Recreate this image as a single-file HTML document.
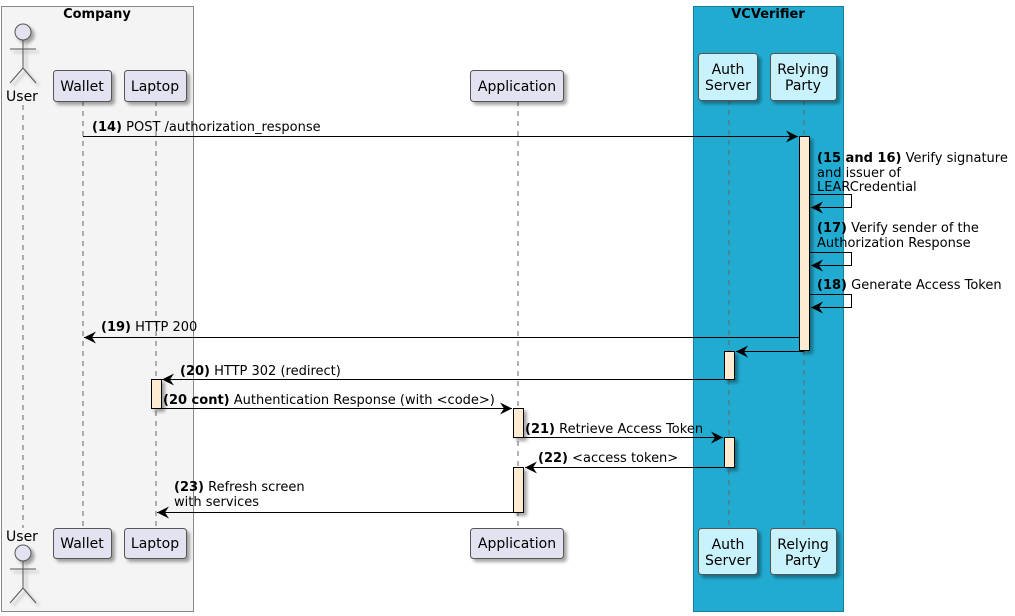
<!DOCTYPE html>
<html><head><meta charset="utf-8"><style>
html,body{margin:0;padding:0;background:#fff;}
svg{display:block;}
text{font-family:"DejaVu Sans","Liberation Sans",sans-serif;font-size:13px;fill:#000;}
.p{font-size:14px;}
.b{font-weight:bold;}
</style></head><body>
<svg width="1015" height="616" viewBox="0 0 1015 616" xmlns="http://www.w3.org/2000/svg">
<defs>
<filter id="sh" x="-20%" y="-20%" width="150%" height="150%"><feDropShadow dx="3" dy="3" stdDeviation="1.5" flood-color="#000" flood-opacity="0.35"/></filter>
<marker id="ar" markerWidth="13" markerHeight="12" refX="12" refY="6" orient="auto" markerUnits="userSpaceOnUse"><path d="M0,0 L12,6 L0,12 L4,6 Z" fill="#000"/></marker>
</defs>
<rect x="1.5" y="6.5" width="192" height="605" fill="#f4f4f4" stroke="#888"/>
<text x="97" y="18" class="b" text-anchor="middle">Company</text>
<rect x="693.5" y="6.5" width="150" height="605" fill="#22abd1" stroke="#1a7f9c"/>
<text x="768" y="18" class="b" text-anchor="middle">VCVerifier</text>

<g stroke="#666" stroke-dasharray="5,5" stroke-width="1">
<line x1="23" y1="105" x2="23" y2="528"/>
<line x1="83" y1="101" x2="83" y2="528"/>
<line x1="156" y1="101" x2="156" y2="528"/>
<line x1="518" y1="101" x2="518" y2="528"/>
<line x1="729" y1="100" x2="729" y2="528"/>
<line x1="804" y1="100" x2="804" y2="528"/>
</g>

<g stroke="#555" fill="none" stroke-width="1" filter="url(#sh)">
<circle cx="23" cy="32" r="8" fill="#e2e2f0"/>
<line x1="23" y1="40" x2="23" y2="68"/><line x1="10" y1="49" x2="36" y2="49"/>
<line x1="23" y1="68" x2="10" y2="83"/><line x1="23" y1="68" x2="36" y2="83"/>
<circle cx="23" cy="553" r="8" fill="#e2e2f0"/>
<line x1="23" y1="561" x2="23" y2="588"/><line x1="10" y1="569" x2="36" y2="569"/>
<line x1="23" y1="588" x2="10" y2="603"/><line x1="23" y1="588" x2="36" y2="603"/>
</g>
<text x="22" y="101" class="p" text-anchor="middle">User</text>
<text x="22" y="541" class="p" text-anchor="middle">User</text>

<g stroke="#555" stroke-width="1" filter="url(#sh)">
<rect x="53.5" y="70.5" width="58" height="31" rx="3" fill="#e2e2f0"/>
<rect x="124.5" y="70.5" width="62" height="31" rx="3" fill="#e2e2f0"/>
<rect x="470.5" y="70.5" width="93" height="31" rx="3" fill="#e2e2f0"/>
<rect x="698.5" y="53.5" width="59" height="47" rx="3" fill="#c8f2fc"/>
<rect x="770.5" y="53.5" width="66" height="47" rx="3" fill="#c8f2fc"/>
<rect x="53.5" y="528.5" width="58" height="30" rx="3" fill="#e2e2f0"/>
<rect x="124.5" y="528.5" width="62" height="30" rx="3" fill="#e2e2f0"/>
<rect x="470.5" y="528.5" width="93" height="30" rx="3" fill="#e2e2f0"/>
<rect x="698.5" y="528.5" width="59" height="46" rx="3" fill="#c8f2fc"/>
<rect x="770.5" y="528.5" width="66" height="46" rx="3" fill="#c8f2fc"/>
</g>
<g text-anchor="middle" class="p">
<text class="p" x="82" y="91">Wallet</text>
<text class="p" x="155" y="91">Laptop</text>
<text class="p" x="517" y="91">Application</text>
<text class="p" x="728" y="74">Auth</text><text class="p" x="728" y="90">Server</text>
<text class="p" x="803" y="74">Relying</text><text class="p" x="803" y="90">Party</text>
<text class="p" x="82" y="548">Wallet</text>
<text class="p" x="155" y="548">Laptop</text>
<text class="p" x="517" y="548">Application</text>
<text class="p" x="728" y="549">Auth</text><text class="p" x="728" y="565">Server</text>
<text class="p" x="803" y="549">Relying</text><text class="p" x="803" y="565">Party</text>
</g>

<g fill="#fdecd2" stroke="#000" stroke-width="1" filter="url(#sh)">
<rect x="799.5" y="136.5" width="10" height="214"/>
<rect x="724.5" y="351.5" width="10" height="28"/>
<rect x="151.5" y="379.5" width="10" height="29"/>
<rect x="513.5" y="408.5" width="10" height="29"/>
<rect x="724.5" y="437.5" width="10" height="30"/>
<rect x="513.5" y="467.5" width="10" height="45"/>
</g>

<g stroke="#000" stroke-width="1" fill="none">
<line x1="83" y1="136.5" x2="798" y2="136.5" marker-end="url(#ar)"/>
<polyline points="810,194.5 851.5,194.5 851.5,207.5 811,207.5" marker-end="url(#ar)"/>
<polyline points="810,252.5 851.5,252.5 851.5,265.5 811,265.5" marker-end="url(#ar)"/>
<polyline points="810,294.5 851.5,294.5 851.5,307.5 811,307.5" marker-end="url(#ar)"/>
<line x1="799" y1="337.5" x2="84" y2="337.5" marker-end="url(#ar)"/>
<line x1="804" y1="351.5" x2="736" y2="351.5" marker-end="url(#ar)"/>
<line x1="724" y1="379.5" x2="162" y2="379.5" marker-end="url(#ar)"/>
<line x1="162" y1="408.5" x2="512" y2="408.5" marker-end="url(#ar)"/>
<line x1="524" y1="437.5" x2="723" y2="437.5" marker-end="url(#ar)"/>
<line x1="724" y1="467.5" x2="525" y2="467.5" marker-end="url(#ar)"/>
<line x1="513" y1="512.5" x2="157" y2="512.5" marker-end="url(#ar)"/>
</g>

<text x="92" y="131"><tspan class="b">(14)</tspan> POST /authorization_response</text>
<text x="817" y="162"><tspan class="b">(15 and 16)</tspan> Verify signature</text>
<text x="817" y="177">and issuer of</text>
<text x="817" y="191">LEARCredential</text>
<text x="817" y="232"><tspan class="b">(17)</tspan> Verify sender of the</text>
<text x="817" y="247">Authorization Response</text>
<text x="817" y="289"><tspan class="b">(18)</tspan> Generate Access Token</text>
<text x="101" y="331"><tspan class="b">(19)</tspan> HTTP 200</text>
<text x="180" y="375"><tspan class="b">(20)</tspan> HTTP 302 (redirect)</text>
<text x="163" y="404"><tspan class="b">(20 cont)</tspan> Authentication Response (with &lt;code&gt;)</text>
<text x="525" y="433"><tspan class="b">(21)</tspan> Retrieve Access Token</text>
<text x="538" y="462"><tspan class="b">(22)</tspan> &lt;access token&gt;</text>
<text x="174" y="491"><tspan class="b">(23)</tspan> Refresh screen</text>
<text x="174" y="506">with services</text>
</svg>
</body></html>
